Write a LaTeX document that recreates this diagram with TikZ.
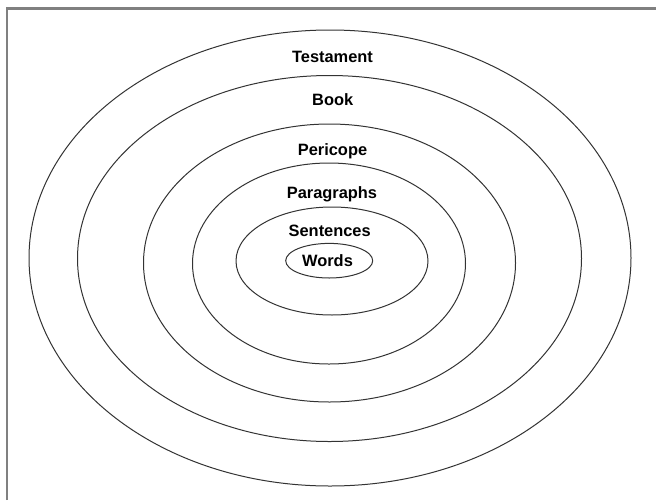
\documentclass[tikz,border=0pt]{standalone}
\usepackage{fontspec}
\setmainfont{Liberation Sans}

\tikzset{every picture/.style={line width=0.75pt}}
\tikzset{
  ring/.style={draw=black!80, line width=0.75pt},
  level/.style={anchor=base, inner sep=0.75pt, font=\fontsize{12.3}{14}\selectfont\bfseries},
  frameline/.style={draw=black!50, line width=1.6pt}
}

\begin{document}
\begin{tikzpicture}[x=0.75pt,y=0.75pt,yscale=-1,xscale=1]
\useasboundingbox (0,0) rectangle (656,500);

%Shape: Frame [id:frame]
\draw [frameline]   (7.3,500) -- (7.3,8.5) -- (656,8.5) ;

%Shape: Ellipse [id:testament]
\draw [ring]   (330,258) ellipse (301 and 228) ;
%Shape: Ellipse [id:book]
\draw [ring]   (329.5,258.5) ellipse (252 and 183) ;
%Shape: Ellipse [id:pericope]
\draw [ring]   (329.5,263) ellipse (186 and 139) ;
%Shape: Ellipse [id:paragraphs]
\draw [ring]   (329,263.5) ellipse (136.5 and 100.5) ;
%Shape: Ellipse [id:sentences]
\draw [ring]   (332,261) ellipse (96 and 54) ;
%Shape: Ellipse [id:words]
\draw [ring]   (329.2,260.7) ellipse (43.5 and 17.3) ;

% Text Node
\draw (332.5,62.3) node [level] (lTestament)   {Testament};
% Text Node
\draw (332.7,105) node [level] (lBook)   {Book};
% Text Node
\draw (332.5,155) node [level] (lPericope)   {Pericope};
% Text Node
\draw (332,198.5) node [level] (lParagraphs)   {Paragraphs};
% Text Node
\draw (329.7,236.7) node [level] (lSentences)   {Sentences};
% Text Node
\draw (327.5,266.7) node [level] (lWords)   {Words};

\end{tikzpicture}
\end{document}
